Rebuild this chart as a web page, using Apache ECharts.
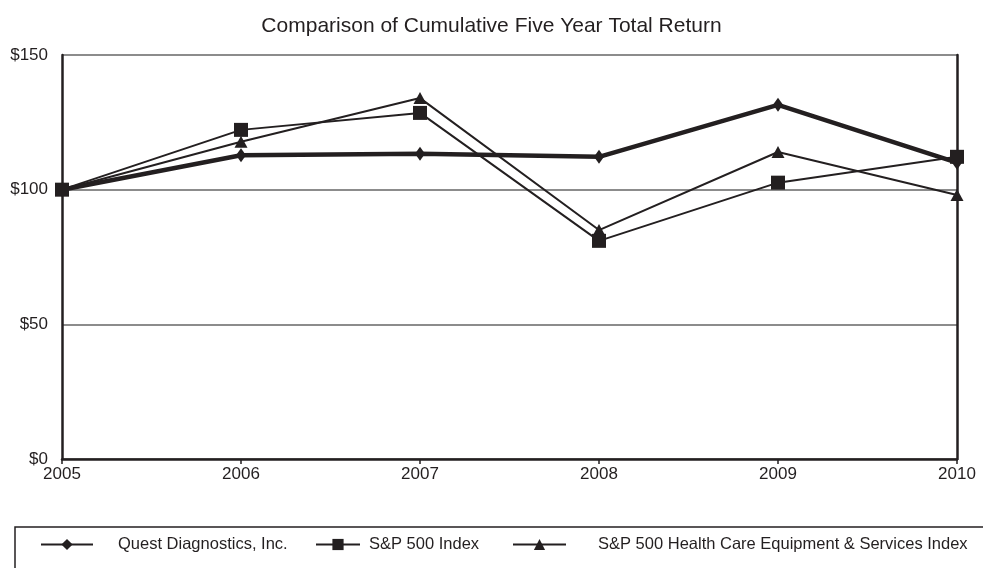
<!DOCTYPE html>
<html><head><meta charset="utf-8">
<script src="https://cdn.jsdelivr.net/npm/echarts@6/dist/echarts.min.js"></script>
<style>html,body{margin:0;padding:0;background:#fff}#c{width:983px;height:568px}</style>
</head><body><div id="c"></div>
<script>
const years = ['2005','2006','2007','2008','2009','2010'];
const quest = [100, 112.8, 113.3, 112.2, 131.5, 110];
const sp500 = [100, 122.2, 128.5, 81, 102.6, 112.2];
const health = [100, 117.8, 134, 85, 114, 98];
const yTicks = [0, 50, 100, 150];

const ink = '#231f20';
const font = 'Liberation Sans, Arial, sans-serif';
const chart = echarts.init(document.getElementById('c'));
function leg(left, w, pad, name) {
  return {top: 536, left: left, padding: 0, itemWidth: w, itemHeight: 14, selectedMode: false,
    textStyle: {fontFamily: font, fontSize: 16.5, color: ink, padding: [0,0,0,pad]}, data: [name]};
}
chart.setOption({
  animation: false,
  backgroundColor: '#fff',
  title: {text: 'Comparison of Cumulative Five Year Total Return', left: 'center', top: 11,
    textStyle: {fontFamily: font, fontSize: 21, fontWeight: 'normal', color: ink}},
  grid: {left: 62, right: 26, top: 55, bottom: 109},
  graphic: [{type: 'rect', shape: {x: 15, y: 527, width: 990, height: 60},
    style: {fill: 'none', stroke: ink, lineWidth: 1.5}}],
  legend: [
    leg(40, 52, 20, 'Quest Diagnostics, Inc.'),
    leg(315, 44, 4, 'S&P 500 Index'),
    leg(512, 53, 27, 'S&P 500 Health Care Equipment & Services Index')
  ],
  xAxis: {type: 'category', data: years, boundaryGap: false,
    axisLine: {lineStyle: {color: ink, width: 2.5}},
    axisTick: {show: true, inside: false, length: 5, lineStyle: {color: ink, width: 1.5}, alignWithLabel: true},
    axisLabel: {fontFamily: font, fontSize: 17, color: ink, margin: 7},
    splitLine: {show: false}},
  yAxis: [{type: 'value', min: yTicks[0], max: yTicks[yTicks.length-1], interval: 50,
    axisLine: {show: true, lineStyle: {color: ink, width: 2.5}},
    axisTick: {show: false},
    axisLabel: {fontFamily: font, fontSize: 17, color: ink, margin: 14, formatter: v => '$' + v},
    splitLine: {show: true, lineStyle: {color: '#666', width: 1.5}}},
    {type: 'value', position: 'right', min: 0, max: 150, interval: 50,
    axisLine: {show: true, lineStyle: {color: ink, width: 2.5}},
    axisTick: {show: false}, axisLabel: {show: false}, splitLine: {show: false}}],
  series: [
    {name: 'Quest Diagnostics, Inc.', type: 'line', data: quest, symbol: 'diamond', symbolSize: [10, 14],
      lineStyle: {color: ink, width: 4.5}, itemStyle: {color: ink}, z: 3},
    {name: 'S&P 500 Health Care Equipment & Services Index', type: 'line', data: health, symbol: 'triangle', symbolSize: [13, 12],
      lineStyle: {color: ink, width: 2}, itemStyle: {color: ink}, z: 4},
    {name: 'S&P 500 Index', type: 'line', data: sp500, symbol: 'rect', symbolSize: 14,
      lineStyle: {color: ink, width: 2}, itemStyle: {color: ink}, z: 5}
  ]
});
</script></body></html>
